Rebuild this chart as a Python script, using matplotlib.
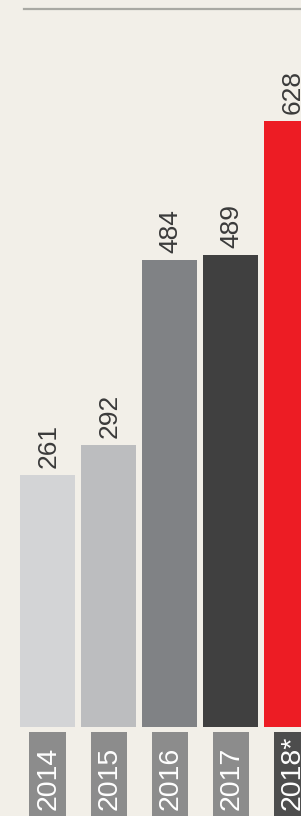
import matplotlib
matplotlib.use("Agg")
import matplotlib.pyplot as plt
from matplotlib.patches import Rectangle
import matplotlib.transforms as mtransforms

years = ["2014", "2015", "2016", "2017", "2018*"]
values = [261, 292, 484, 489, 628]
bar_colors = ["#d3d4d6", "#bcbdbf", "#808285", "#404040", "#ed1c24"]
box_colors = ["#8c8c8c", "#8c8c8c", "#8c8c8c", "#8c8c8c", "#4d4d4d"]

W, H, DPI = 301, 816, 100
bg = "#f2efe8"
plt.rcParams["font.family"] = ["Liberation Sans", "DejaVu Sans"]

fig = plt.figure(figsize=(W / DPI, H / DPI), dpi=DPI, facecolor=bg)
ax = fig.add_axes([0, 0, 1, 1])
ax.set_facecolor(bg)
for s in ax.spines.values():
    s.set_visible(False)
ax.set_xticks([])
ax.set_yticks([])

step = 61.0          # px per category
c0 = 47.5            # px of first bar centre
base_px = 727.0      # baseline px from top
ppu = 0.9655         # px per unit
ax.set_xlim(-c0 / step, (W - c0) / step)
ax.set_ylim(-(H - base_px) / ppu, base_px / ppu)

x = list(range(len(values)))
ax.bar(x, values, width=55 / step, color=bar_colors, linewidth=0)

for xi, v in zip(x, values):
    ax.annotate(str(v), (xi, v), xytext=(0.5, 7 * 72 / DPI), textcoords="offset points",
                rotation=90, ha="center", va="bottom", fontsize=19, color="#3a3a3a")

# year boxes
trans = mtransforms.blended_transform_factory(ax.transData, ax.transAxes)
box_top = (H - 732) / H
for xi, y, bc in zip(x, years, box_colors):
    ax.add_patch(Rectangle((xi - 18 / step, 0), 36 / step, box_top, transform=trans,
                           facecolor=bc, edgecolor="none", clip_on=False))
    ax.text(xi + 1 / step, 6 / H, y, transform=trans, rotation=90, ha="center", va="bottom",
            fontsize=20.5, color="white")

# top rule
ax.axhline((base_px - 9) / ppu, xmin=24 / W, xmax=1, color="#a9a9a3", linewidth=1.6)

fig.savefig("out.png", dpi=DPI, facecolor=bg)
